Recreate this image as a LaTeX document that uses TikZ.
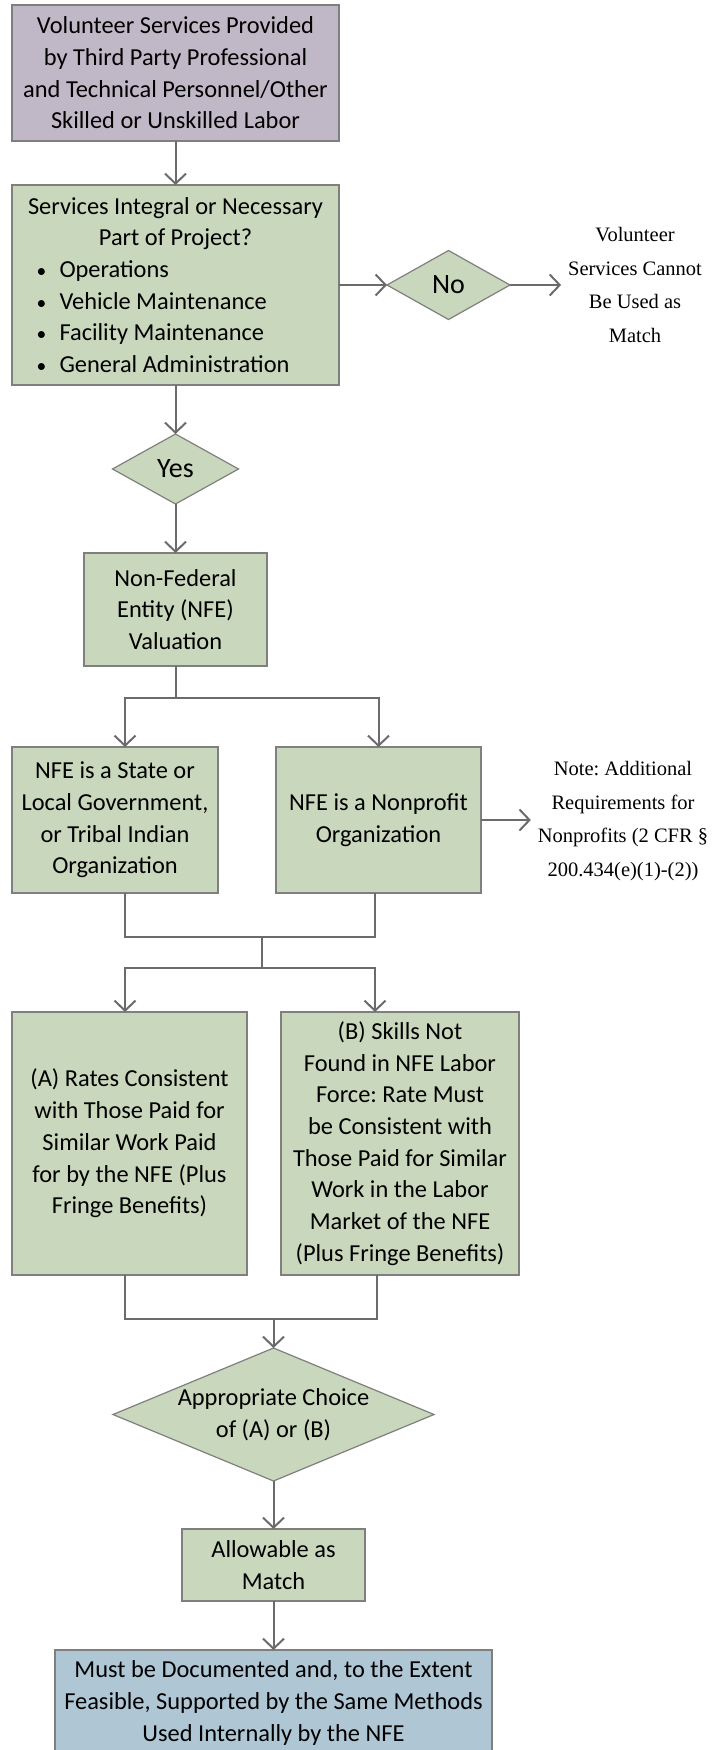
\documentclass[tikz,border=0pt]{standalone}
\usepackage{fontspec}
\setmainfont{Carlito}
\newfontfamily\notefont{Liberation Serif}
\usetikzlibrary{shapes.geometric,arrows.meta}

\definecolor{boxpurple}{HTML}{C1B8C7}
\definecolor{boxgreen}{HTML}{C9D7BC}
\definecolor{boxblue}{HTML}{AFC6D4}
\definecolor{edgegray}{HTML}{7F7F7F}
\definecolor{linkgray}{HTML}{6B6B6B}

\frenchspacing
\begin{document}
\begin{tikzpicture}[x=1pt,y=-1pt,
  every node/.style={inner sep=0pt, outer sep=0pt},
  boxtext/.style={font=\fontsize{24.4}{31.7}\selectfont, align=center},
  answertext/.style={font=\fontsize{28}{32}\selectfont},
  card/.style={boxtext, draw=edgegray, line width=1.2pt, fill=boxgreen},
  choicebox/.style={shape=diamond, draw=edgegray, line width=1.2pt, fill=boxgreen},
  note/.style={font=\notefont\fontsize{20.5}{33.5}\selectfont, align=center, inner xsep=7pt},
  line/.style={draw=linkgray, line width=2pt},
  link/.style={line, -{Straight Barb[length=10pt,width=21pt]}}
]
\useasboundingbox (0,0) rectangle (722,1750);

% boxes and decisions
\node[card, fill=boxpurple, minimum width=327pt, minimum height=136pt] (src) at (175.5,73)
  {Volunteer Services Provided\\by Third Party Professional\\and Technical Personnel/Other\\Skilled or Unskilled Labor};
\node[card, minimum width=327pt, minimum height=200pt] (integ) at (175.5,285)
  {\parbox{316pt}{\centering Services Integral or Necessary\\Part of Project?\par
   \raggedright
   \hspace*{19pt}\makebox[23pt][l]{\scalebox{0.8}{•}}Operations\\
   \hspace*{19pt}\makebox[23pt][l]{\scalebox{0.8}{•}}Vehicle Maintenance\\
   \hspace*{19pt}\makebox[23pt][l]{\scalebox{0.8}{•}}Facility Maintenance\\
   \hspace*{19pt}\makebox[23pt][l]{\scalebox{0.8}{•}}General Administration}};
\node[choicebox, minimum width=123pt, minimum height=69pt,
  label={[answertext]center:No}] (no) at (448.5,285) {};
\node[note] (nonote) at (635,285) {Volunteer\\Services Cannot\\Be Used as\\Match};
\node[choicebox, minimum width=126pt, minimum height=70pt,
  label={[answertext]center:Yes}] (yes) at (175.5,469) {};
\node[card, minimum width=183pt, minimum height=113pt] (val) at (175.5,609.5)
  {Non-Federal\\Entity (NFE)\\Valuation};
\node[card, minimum width=206pt, minimum height=146pt] (gov) at (115,820)
  {NFE is a State or\\Local Government,\\or Tribal Indian\\Organization};
\node[card, minimum width=205pt, minimum height=146pt] (npo) at (378.5,820)
  {NFE is a Nonprofit\\Organization};
\node[note] (npnote) at (623,821)
  {Note: Additional\\Requirements for\\Nonprofits (2 CFR §\\200.434(e)(1)-(2))};
\node[card, minimum width=235pt, minimum height=263pt] (rateA) at (129.5,1143.5)
  {(A) Rates Consistent\\with Those Paid for\\Similar Work Paid\\for by the NFE (Plus\\Fringe Benefits)};
\node[card, minimum width=238pt, minimum height=263pt] (rateB) at (400,1143.5)
  {(B) Skills Not\\Found in NFE Labor\\Force: Rate Must\\be Consistent with\\Those Paid for Similar\\Work in the Labor\\Market of the NFE\\(Plus Fringe Benefits)};
\node[choicebox, minimum width=321pt, minimum height=133pt,
  label={[boxtext]center:Appropriate Choice\\of (A) or (B)}] (choice) at (273.5,1414.5) {};
\node[card, minimum width=183pt, minimum height=72pt] (allow) at (273.5,1565)
  {Allowable as\\Match};
\node[card, fill=boxblue, minimum width=437pt, minimum height=106pt] (doc) at (273.5,1703)
  {Must be Documented and, to the Extent\\Feasible, Supported by the Same Methods\\Used Internally by the NFE};

% junction points of the split and merge lines
\coordinate (split) at (175.5,698);
\coordinate (joinA) at (262,937);
\coordinate (forkA) at (262,968);
\coordinate (joinB) at (273.5,1319);

% connectors
\draw[link] (src) -- (integ);
\draw[link] (integ.east) -- (no.west);
\draw[link] (no.east) -- (nonote.west |- no.east);
\draw[link] (integ) -- (yes);
\draw[link] (yes) -- (val);
\draw[link] (val.south) -- (split) -| ([xshift=10pt]gov.north);
\draw[link] (split) -| (npo.north);
\draw[link] (npo.east) -- (npnote.west |- npo.east);
\draw[line] ([xshift=10pt]gov.south) |- (joinA) -| ([xshift=-3.5pt]npo.south);
\draw[line] (joinA) -- (forkA);
\draw[link] (forkA) -| ([xshift=-4.5pt]rateA.north);
\draw[link] (forkA) -| ([xshift=-25pt]rateB.north);
\draw[line] ([xshift=-4.5pt]rateA.south) |- (joinB) -| ([xshift=-23pt]rateB.south);
\draw[link] (joinB) -- (choice.north);
\draw[link] (choice) -- (allow);
\draw[link] (allow) -- (doc);
\end{tikzpicture}
\end{document}
